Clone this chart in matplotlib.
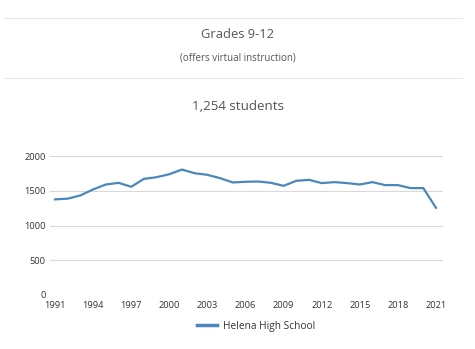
import matplotlib.pyplot as plt
from matplotlib.lines import Line2D

plt.rcParams['font.family'] = ['Open Sans', 'DejaVu Sans']

years = list(range(1991, 2022))
students = [1376, 1386, 1433, 1519, 1590, 1614, 1557, 1671, 1695, 1738,
            1805, 1752, 1729, 1681, 1619, 1629, 1633, 1614, 1571, 1643,
            1657, 1610, 1624, 1610, 1590, 1624, 1581, 1581, 1538, 1538,
            1254]
xticks = list(range(1991, 2022, 3))
yticks = [0, 500, 1000, 1500, 2000]
series_name = "Helena High School"

text_color = "#555555"
line_color = "#4a88bb"

fig = plt.figure(figsize=(4.75, 3.49), dpi=100)

# header text and separators
for yy in (1 - 18 / 349, 1 - 78 / 349):
    fig.add_artist(Line2D([4 / 475, 462 / 475], [yy, yy], color="#e6e6e6", lw=0.8))
fig.text(0.5, 1 - 35 / 349, "Grades 9-12", ha='center', va='center',
         fontsize=9.3, color=text_color)
fig.text(0.5, 1 - 58 / 349, "(offers virtual instruction)", ha='center', va='center',
         fontsize=7, color=text_color)
fig.text(0.5, 1 - 106 / 349, "1,254 students", ha='center', va='center',
         fontsize=9.6, color=text_color)

ax = fig.add_axes([50 / 475, 1 - 295 / 349, 393 / 475, 139 / 349])
ax.plot(years, students, color=line_color, lw=1.6, label=series_name)
ax.set_xlim(1991 - 5 / 12.7, 2021 + 7 / 12.7)
ax.set_ylim(0, 2000)
ax.set_xticks(xticks)
ax.set_yticks(yticks)
ax.grid(axis='y', color="#d9d9d9", lw=0.8)
ax.set_axisbelow(True)
for s in ax.spines.values():
    s.set_visible(False)
ax.tick_params(length=0, labelsize=6.7, colors="#333333")
ax.tick_params(axis='x', pad=4)
ax.tick_params(axis='y', pad=3)

leg = ax.legend(loc='upper center', bbox_to_anchor=(0.525, -0.12), frameon=False,
                fontsize=7.3, handlelength=2.0, handletextpad=0.6)
for t in leg.get_texts():
    t.set_color("#333333")
for h in leg.get_lines():
    h.set_linewidth(2.5)

fig.savefig("out.png", dpi=100)
